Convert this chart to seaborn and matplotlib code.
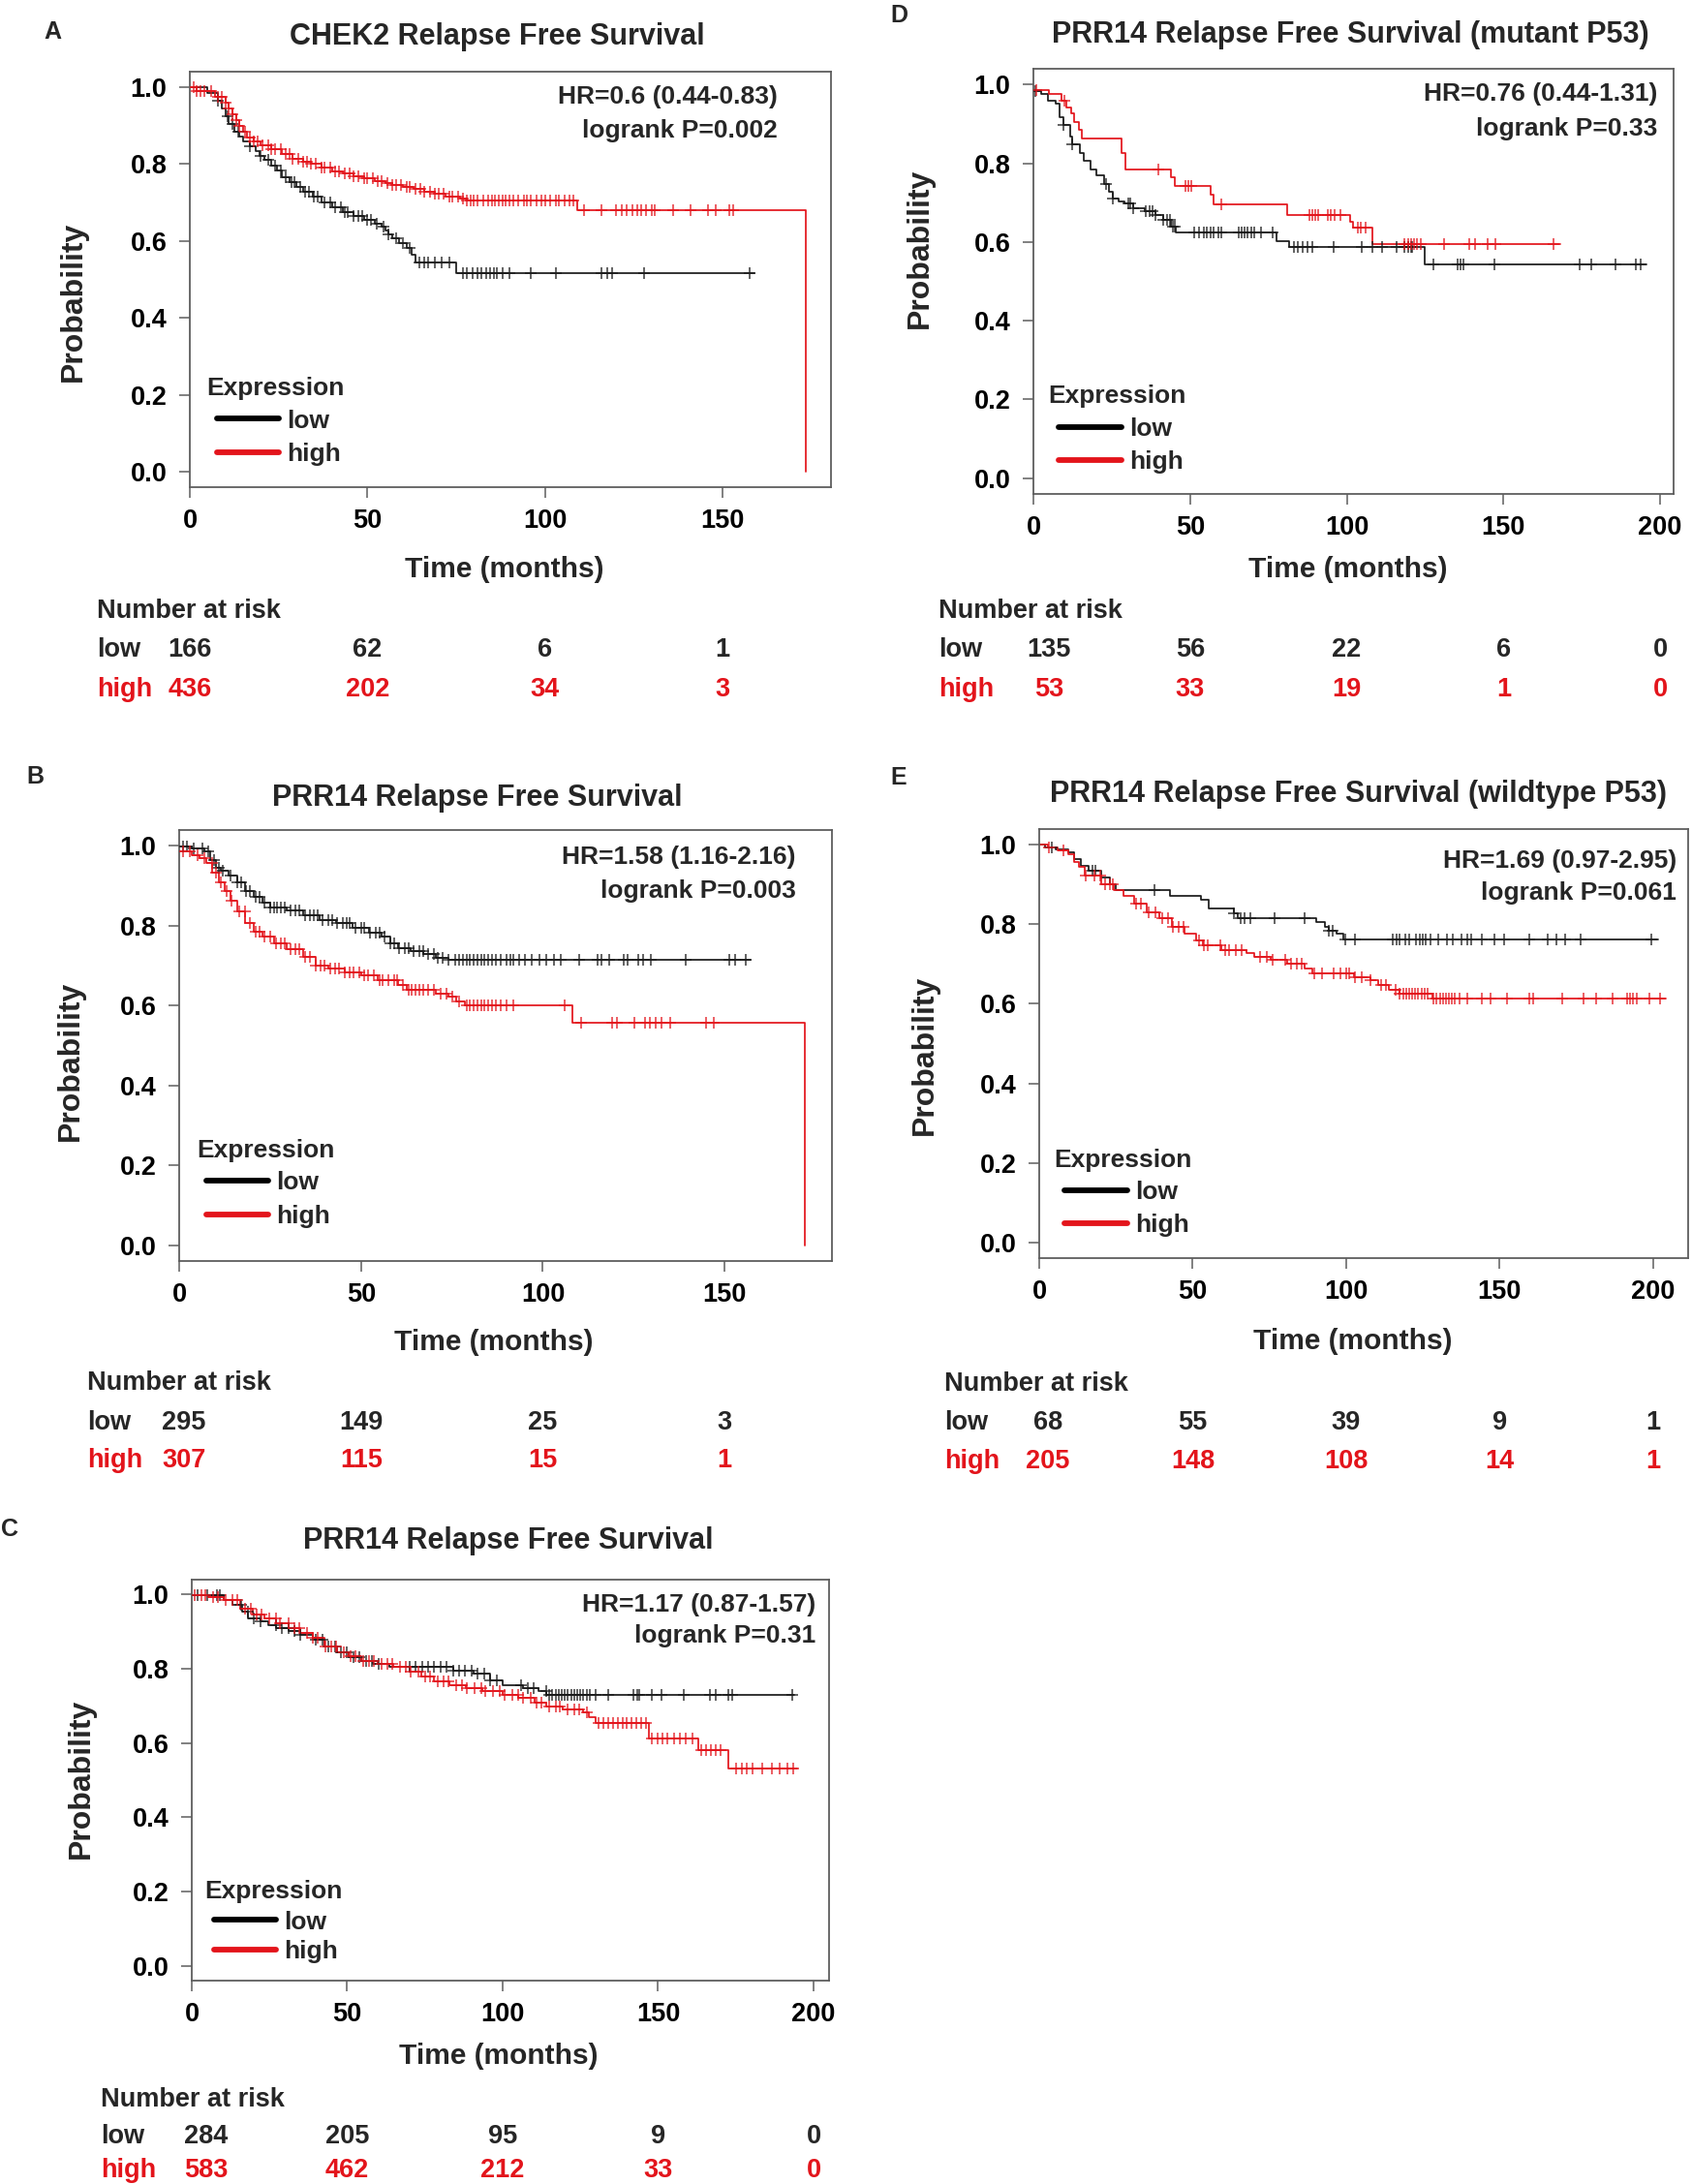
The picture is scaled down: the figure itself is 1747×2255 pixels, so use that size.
import matplotlib
matplotlib.use("Agg")
import matplotlib.pyplot as plt
import matplotlib.transforms as mtransforms
from matplotlib.lines import Line2D
import seaborn as sns
import numpy as np

# ---- data ----
# panel A: CHEK2, all patients
a_low_t = [0, 5, 8, 9, 10, 11, 12.5, 14, 15, 17, 18.5, 19.5, 21, 23, 24.5, 26, 28, 30, 32, 34.5,
           37, 40, 43, 46, 49, 52, 54, 55, 56, 57, 59, 61, 62.5, 63.5, 75, 159]
a_low_s = [1.0, 0.985, 0.965, 0.945, 0.925, 0.905, 0.885, 0.872, 0.86, 0.845, 0.833, 0.822, 0.81, 0.795,
           0.782, 0.765, 0.752, 0.74, 0.728, 0.714, 0.70, 0.688, 0.676, 0.665, 0.655, 0.645, 0.637, 0.628,
           0.618, 0.607, 0.595, 0.581, 0.564, 0.543, 0.517, 0.517]
a_low_cens = [8, 10.5, 12, 13.5, 17, 20, 22, 24, 25.5, 27, 28.5, 29.5, 31, 32.5, 33.5, 35, 36, 38, 39.5, 41,
              42.5, 43.5, 44.5, 46, 47.5, 48.5, 50, 51, 52.5, 54.5, 56, 58, 60, 62, 64.5, 66, 67, 69, 71, 73,
              77, 78, 79.5, 81, 82, 83.5, 84.5, 85.5, 86.5, 88, 90, 96, 103, 116, 117.5, 119, 128, 157.5]
a_high_t = [0, 2, 7, 10, 11, 12, 13, 14, 15, 16, 18, 20, 23, 26, 29, 32, 34, 37, 40, 43, 46, 49, 52, 55,
            57, 60, 63, 66, 69, 72, 76, 78, 109, 173.5]
a_high_s = [1.0, 0.99, 0.975, 0.96, 0.945, 0.93, 0.915, 0.90, 0.885, 0.87, 0.858, 0.848, 0.838, 0.826,
            0.814, 0.805, 0.80, 0.79, 0.78, 0.775, 0.769, 0.762, 0.756, 0.75, 0.746, 0.74, 0.735, 0.728,
            0.722, 0.716, 0.709, 0.705, 0.679, 0.0]
a_high_cens = [1, 2, 3, 4, 6, 8, 9, 10, 11, 12, 13, 14, 15.5, 17, 18, 19, 20.5, 22, 23, 24, 25.5, 27, 28,
               29, 30.5, 32, 33, 34, 35.5, 37, 38, 39.5, 41, 42, 43.5, 45, 46, 47.5, 49, 50, 51.5, 53, 54,
               55.5, 57, 58, 59.5, 61, 62, 63.5, 65, 66, 67.5, 69, 70, 71.5, 73, 74, 75.5, 77, 78, 79, 80,
               81, 82.5, 84, 85, 86, 87, 88, 89, 90, 91, 92.5, 94, 95, 96, 97.5, 99, 100, 101.5, 103, 104,
               105.5, 107, 108, 111, 116, 120, 121.5, 123, 124.5, 126, 127, 128.5, 130, 131, 136, 141, 146,
               148, 152, 153]

# panel B: PRR14, all patients
b_low_t = [0, 3.4, 6.8, 8.5, 10.2, 11.4, 13.7, 15.9, 18.2, 20.5, 22.8, 25, 29.6, 34, 38.7, 43.2, 47.8,
           52.3, 55.7, 58, 60.3, 63.7, 67.1, 70.5, 74, 157]
b_low_s = [0.998, 0.994, 0.986, 0.965, 0.945, 0.937, 0.925, 0.908, 0.888, 0.872, 0.859, 0.847, 0.839,
           0.827, 0.815, 0.806, 0.794, 0.782, 0.774, 0.757, 0.745, 0.737, 0.729, 0.72, 0.715, 0.715]
b_low_cens = [1, 2, 4, 6.5, 8, 9.5, 11, 12, 14, 16, 17, 18.5, 19.5, 21, 22, 23.5, 25, 26, 27, 28, 29, 30.5,
              32, 33, 34.5, 36, 37, 38, 39.5, 41, 42, 43.5, 45, 46, 47, 48.5, 50, 51, 52.5, 54, 55, 56.5,
              58, 59, 60.5, 62, 63, 64.5, 66, 67, 68.5, 70, 71, 72.5, 74, 76, 77, 78, 79, 80, 81, 82, 83,
              84, 85, 86, 87, 88.5, 90, 91, 92, 93.5, 95, 97, 99, 101, 103, 105, 110, 115, 116, 118.3,
              122.3, 123.4, 126.3, 127.5, 129.7, 139.4, 151.3, 153, 155.9]
b_high_t = [0, 3.4, 5.7, 7.4, 9.1, 10.8, 12.5, 14.2, 15.9, 18.2, 20.5, 22.8, 26.2, 29.6, 34.1, 37.5, 41,
            45.5, 50, 54.6, 60.3, 62.6, 70.5, 74, 76.2, 78.5, 108, 172]
b_high_s = [0.986, 0.978, 0.969, 0.957, 0.933, 0.908, 0.888, 0.863, 0.835, 0.806, 0.786, 0.774, 0.757,
            0.741, 0.721, 0.70, 0.692, 0.684, 0.676, 0.664, 0.651, 0.639, 0.631, 0.623, 0.611, 0.600,
            0.556, 0.0]
b_high_cens = [1, 3, 5, 7, 9, 10, 11.5, 13, 14.5, 16.5, 18, 19.5, 21, 22, 23.5, 25, 26.5, 28, 29, 30.5,
               32, 33, 34.5, 36, 37.5, 39, 40, 41.5, 43, 44, 45.5, 47, 48, 49.5, 51, 52, 53.5, 55, 56,
               57.5, 59, 60, 61.5, 63, 64, 65, 66, 67, 68.5, 70, 72, 73.5, 75, 77, 79, 80, 81, 82, 83, 84,
               85, 86, 87, 88.5, 90, 92, 106, 110.5, 119, 120.5, 125.3, 128, 129.5, 131, 132.5, 135, 145,
               147]

# panel C: PRR14, second cohort
c_low_t = [0, 10.4, 13, 16.2, 18.2, 22, 24.6, 27.2, 31.1, 35, 38.9, 42.8, 46.7, 50.6, 54.5, 58.4, 63.6,
           84, 90.8, 96, 99.9, 106.4, 111.5, 114.1, 193.9]
c_low_s = [0.997, 0.984, 0.971, 0.953, 0.936, 0.927, 0.918, 0.91, 0.901, 0.892, 0.879, 0.861, 0.844,
           0.831, 0.822, 0.813, 0.804, 0.796, 0.787, 0.769, 0.756, 0.747, 0.739, 0.73, 0.73]
c_low_cens = [2, 5, 8, 9, 16, 18, 20, 22, 27, 29, 31, 33, 35, 40, 42, 44, 46, 48, 50, 52, 54, 56, 58, 60,
              70, 72, 74, 76, 78, 80, 82, 84, 86, 88, 90, 92, 94, 96, 98, 106, 108, 110, 114, 115, 116,
              117, 118, 119, 120, 121, 122, 123, 124, 125, 126, 127, 128, 130, 134, 142, 143.2, 144,
              147.9, 151.1, 158.2, 166.7, 168.6, 172.5, 173.8, 193.3]
c_high_t = [0, 5.2, 10.4, 15.6, 19.5, 23.3, 27.2, 31.1, 35, 38.9, 42.8, 46.7, 50.6, 54.5, 59.7, 64.9, 70,
            73.9, 77.8, 83, 88.2, 93.4, 99.9, 105.1, 110.2, 114.1, 119.3, 125.8, 127.8, 130, 147.2, 162.8,
            172.5, 194.6]
c_high_s = [0.997, 0.993, 0.984, 0.962, 0.945, 0.936, 0.923, 0.91, 0.897, 0.883, 0.861, 0.844, 0.835,
            0.822, 0.813, 0.804, 0.791, 0.778, 0.765, 0.756, 0.747, 0.739, 0.73, 0.721, 0.708, 0.699,
            0.691, 0.682, 0.669, 0.655, 0.613, 0.581, 0.531, 0.531]
c_high_cens = [1, 3, 4.5, 7, 8.5, 11, 13, 14.5, 17, 19, 21, 22.5, 25, 27, 28.5, 31, 33, 34.5, 37, 39,
               40.5, 43, 45, 46.5, 49, 51, 52.5, 55, 57, 58.5, 61, 63, 64.5, 67, 69, 70.5, 73, 75, 76.5,
               79, 81, 82.5, 85, 87, 88.5, 91, 93, 94.5, 97, 99, 100.5, 103, 105, 106.5, 109, 111, 112.5,
               115, 117, 118.5, 121, 123, 124.5, 127, 131, 132.5, 134, 135.5, 137, 138.5, 140, 141.5, 143,
               144.5, 146, 148, 150, 151.5, 153, 155, 157, 159, 161, 164, 165.5, 167, 168.5, 170, 175,
               177, 178.5, 180.5, 183.5, 186.7, 189, 191.5, 193.5]

# panel D: PRR14, mutant P53
d_low_t = [0, 2.6, 4.5, 7.1, 8.4, 9.7, 11.7, 12.3, 14.9, 16.2, 18.1, 20.1, 22.7, 24, 25.3, 27.2, 29.1,
           31.7, 35.6, 38.9, 41.5, 44, 45.3, 77.7, 81.6, 125, 195.6]
d_low_s = [0.984, 0.976, 0.959, 0.951, 0.918, 0.897, 0.868, 0.847, 0.827, 0.806, 0.785, 0.769, 0.748,
           0.727, 0.711, 0.703, 0.698, 0.686, 0.678, 0.669, 0.657, 0.640, 0.624, 0.603, 0.587, 0.543,
           0.543]
d_low_cens = [0.6, 9.7, 12.3, 23.3, 25.3, 30.4, 31, 31.7, 36, 37, 38, 39, 41.5, 42.5, 43.5, 44.5, 45,
              51.2, 53, 54.5, 55.4, 56.5, 57.5, 59, 60, 65.4, 66.5, 67.5, 68.4, 69.5, 70.5, 72.5, 76.4,
              83, 84.5, 86, 87.5, 89, 95.9, 104.9, 108.2, 111.4, 116, 118.5, 119.5, 120.5, 121, 127.6,
              135.4, 136.3, 137.3, 147, 174.2, 178, 185.9, 192.4, 193.9]
d_high_t = [0, 5, 9, 10.5, 12, 13, 14.5, 15.5, 28, 29.5, 44, 45, 56.5, 57.5, 81, 101, 102, 108.2, 168]
d_high_s = [0.987, 0.975, 0.959, 0.942, 0.926, 0.905, 0.885, 0.864, 0.825, 0.785, 0.764, 0.742, 0.719,
            0.696, 0.669, 0.652, 0.636, 0.595, 0.595]
d_high_cens = [1, 10, 40, 48.5, 49.5, 50.5, 60, 88, 89, 90, 91, 94, 95, 96, 98, 103.5, 104.5, 106,
               118.5, 119.5, 120.5, 121.5, 122.5, 123.5, 131, 139, 141, 145, 147.5, 166]

# panel E: PRR14, wildtype P53
e_low_t = [0, 2, 5.4, 9.4, 11.5, 13.5, 16.2, 20.2, 22.9, 25, 42.5, 52.6, 55.3, 63.3, 64.7, 90.3, 93,
           94.3, 97, 99, 201.5]
e_low_s = [1.0, 0.994, 0.99, 0.982, 0.965, 0.948, 0.936, 0.919, 0.902, 0.886, 0.873, 0.861, 0.84, 0.827,
           0.815, 0.806, 0.794, 0.785, 0.777, 0.762, 0.762]
e_low_cens = [4, 17.5, 18.2, 37.7, 63.3, 65.5, 66.9, 68.7, 76.8, 86.3, 94.3, 95.7, 99.7, 103, 115.2,
              116.3, 117.3, 119.3, 120.6, 122.6, 124, 125, 126, 127.4, 130, 132.7, 134.8, 137.5, 139.5,
              140.8, 144.2, 148.2, 151.6, 159.7, 165.8, 168.5, 171.2, 176.5, 199.5]
e_high_t = [0, 2.7, 6, 9.4, 11.5, 12.8, 14.8, 20.2, 24.3, 27.6, 31, 35, 39.1, 43.1, 47.2, 51.2, 53.2,
            59.3, 67.4, 70.1, 75.5, 80.9, 86.3, 89, 102.4, 107.8, 110.5, 113.9, 117.3, 128, 204.2]
e_high_s = [1.0, 0.994, 0.986, 0.977, 0.956, 0.944, 0.923, 0.902, 0.886, 0.873, 0.852, 0.831, 0.815,
            0.794, 0.777, 0.76, 0.748, 0.735, 0.727, 0.719, 0.71, 0.702, 0.689, 0.677, 0.668, 0.66, 0.647,
            0.635, 0.626, 0.614, 0.614]
e_high_cens = [3, 8, 15, 18, 20, 21.5, 23, 24, 31.5, 33, 35.5, 38, 40, 42, 43.5, 45.5, 47, 52, 53.5, 55,
               59, 60.5, 62, 64, 66, 72, 74, 76, 80, 82, 84, 85.5, 89.5, 92, 96, 98, 100, 101, 103, 105,
               108, 111.5, 113, 116, 117.5, 118.5, 119.5, 120.5, 121.5, 122.5, 123.5, 124.5, 125.5,
               126.5, 128.5, 129.5, 130.5, 131.5, 132.5, 133.5, 134.5, 135.5, 137, 139.5, 144.2, 146.9,
               152.3, 159.7, 161, 170.5, 177.2, 181.3, 186.7, 191.4, 192.5, 193.5, 194.7, 198.8, 202.2]

titles = {"A": "CHEK2 Relapse Free Survival",
          "B": "PRR14 Relapse Free Survival",
          "C": "PRR14 Relapse Free Survival",
          "D": "PRR14 Relapse Free Survival (mutant P53)",
          "E": "PRR14 Relapse Free Survival (wildtype P53)"}
hr_text = {"A": "HR=0.6 (0.44-0.83)", "B": "HR=1.58 (1.16-2.16)", "C": "HR=1.17 (0.87-1.57)",
           "D": "HR=0.76 (0.44-1.31)", "E": "HR=1.69 (0.97-2.95)"}
p_text = {"A": "logrank P=0.002", "B": "logrank P=0.003", "C": "logrank P=0.31",
          "D": "logrank P=0.33", "E": "logrank P=0.061"}
risk_low = {"A": [166, 62, 6, 1], "B": [295, 149, 25, 3], "C": [284, 205, 95, 9, 0],
            "D": [135, 56, 22, 6, 0], "E": [68, 55, 39, 9, 1]}
risk_high = {"A": [436, 202, 34, 3], "B": [307, 115, 15, 1], "C": [583, 462, 212, 33, 0],
             "D": [53, 33, 19, 1, 0], "E": [205, 148, 108, 14, 1]}
xticks = {"A": [0, 50, 100, 150], "B": [0, 50, 100, 150], "C": [0, 50, 100, 150, 200],
          "D": [0, 50, 100, 150, 200], "E": [0, 50, 100, 150, 200]}
curves = {"A": (a_low_t, a_low_s, a_low_cens, a_high_t, a_high_s, a_high_cens),
          "B": (b_low_t, b_low_s, b_low_cens, b_high_t, b_high_s, b_high_cens),
          "C": (c_low_t, c_low_s, c_low_cens, c_high_t, c_high_s, c_high_cens),
          "D": (d_low_t, d_low_s, d_low_cens, d_high_t, d_high_s, d_high_cens),
          "E": (e_low_t, e_low_s, e_low_cens, e_high_t, e_high_s, e_high_cens)}

# ---- layout in pixels of the 1747x2255 picture ----
W, H = 1747, 2255
layout = {
    # box l,t,r,b | xmax | letter | title | HR right,y1,y2 | legend: title x,y, line x0,x1, row y1,y2
    # | ylabel | xlabel | risk x,y rows | shift of first risk column (px)
    "A": dict(box=(196, 74, 858, 503), xmax=180.5, letter=(54, 33), title=(513, 38),
              hr=(803, 100, 135), leg=(213, 401, 224, 288, 435, 470), ylab=(76, 311), xlab=(521, 588),
              risk=(100, 631, 671, 712), shift0=0),
    "B": dict(box=(185, 857, 859, 1302), xmax=179.5, letter=(36, 802), title=(493, 824),
              hr=(822, 885, 920), leg=(203, 1188, 213, 277, 1222, 1257), ylab=(73, 1095), xlab=(510, 1386),
              risk=(90, 1428, 1469, 1508), shift0=5),
    "C": dict(box=(198, 1631, 856, 2045), xmax=205, letter=(10, 1579), title=(525, 1591),
              hr=(842, 1657, 1689), leg=(211, 1953, 221, 285, 1985, 2016), ylab=(84, 1836), xlab=(515, 2123),
              risk=(104, 2168, 2206, 2241), shift0=15),
    "D": dict(box=(1067, 71, 1728, 510), xmax=204.3, letter=(928, 16), title=(1394, 36),
              hr=(1711, 97, 133), leg=(1082, 409, 1093, 1158, 444, 478), ylab=(950, 256), xlab=(1392, 588),
              risk=(969, 631, 671, 712), shift0=16),
    "E": dict(box=(1073, 856, 1743, 1299), xmax=211.4, letter=(928, 803), title=(1403, 820),
              hr=(1731, 889, 922), leg=(1088, 1198, 1099, 1164, 1232, 1266), ylab=(955, 1089), xlab=(1397, 1385),
              risk=(975, 1429, 1469, 1509), shift0=9),
}

RED = "#e3141b"
BLACK = "#1a1a1a"
AX_GREY = "#5e5e5e"
FS_LEG = 19

sns.set_theme(style="white")
plt.rcParams["font.family"] = ["Liberation Sans", "DejaVu Sans"]
plt.rcParams["font.weight"] = "bold"

fig = plt.figure(figsize=(W / 100, H / 100), dpi=100)


def fx(x):
    return x / W


def fy(y):
    return 1 - y / H


def draw_km(ax, t, s, cens, color, alpha):
    t = np.asarray(t, dtype=float)
    s = np.asarray(s, dtype=float)
    cens = np.asarray(cens, dtype=float)
    sns.lineplot(x=t, y=s, ax=ax, drawstyle="steps-post", color=color, linewidth=1.25,
                 estimator=None, sort=False)
    # censored marks sit on the curve at their time
    idx = np.searchsorted(t, cens, side="right") - 1
    sns.scatterplot(x=cens, y=s[idx], ax=ax, marker="+", s=75, color=color, linewidth=1.2,
                    alpha=alpha, legend=False, zorder=3)


for key in ["A", "B", "C", "D", "E"]:
    lay = layout[key]
    l, t_, r, b = lay["box"]
    ax = fig.add_axes([fx(l), fy(b), (r - l) / W, (b - t_) / H])
    lt, ls, lc, ht, hs, hc = curves[key]
    draw_km(ax, lt, ls, lc, BLACK, 0.8)
    draw_km(ax, ht, hs, hc, RED, 0.8)

    ax.set_xlim(0, lay["xmax"])
    ax.set_ylim(-0.04, 1.04)
    ax.set_xticks(xticks[key])
    ax.set_yticks([0.0, 0.2, 0.4, 0.6, 0.8, 1.0])
    ax.set_yticklabels(["0.0", "0.2", "0.4", "0.6", "0.8", "1.0"])
    ax.tick_params(axis="both", bottom=True, left=True, direction="out", length=8, width=1.1,
                   color=AX_GREY, labelsize=19.5, labelcolor="black")
    ax.tick_params(axis="y", pad=9)
    ax.tick_params(axis="x", pad=8)
    for lab in ax.get_xticklabels() + ax.get_yticklabels():
        lab.set_fontweight("bold")
    for sp in ax.spines.values():
        sp.set_color(AX_GREY)
        sp.set_linewidth(1.3)
    ax.set_xlabel("")
    ax.set_ylabel("")

    # legend: title as text, entries as a legend anchored at the line start
    ex, ey, hx0, hx1, row1, row2 = lay["leg"]
    fig.text(fx(ex), fy(ey), "Expression", fontsize=FS_LEG, fontweight="bold", ha="left", va="center")
    handles = [Line2D([], [], color="black", lw=4.2, label="low"),
               Line2D([], [], color=RED, lw=4.2, label="high")]
    em = FS_LEG * 100 / 72
    leg = ax.legend(handles=handles, loc="upper left",
                    bbox_to_anchor=(fx(hx0), fy(row1 - 12.5)), bbox_transform=fig.transFigure,
                    frameon=False, fontsize=FS_LEG, borderpad=0, borderaxespad=0,
                    handlelength=(hx1 - hx0) / em, handletextpad=0.3,
                    labelspacing=(row2 - row1 - 24.7) / em)
    for txt in leg.get_texts():
        txt.set_fontweight("bold")

    # texts
    fig.text(fx(lay["letter"][0]), fy(lay["letter"][1]), key, fontsize=18, fontweight="bold",
             ha="center", va="center")
    fig.text(fx(lay["title"][0]), fy(lay["title"][1]), titles[key], fontsize=22, fontweight="bold",
             ha="center", va="center")
    fig.text(fx(lay["hr"][0]), fy(lay["hr"][1]), hr_text[key], fontsize=19, fontweight="bold",
             ha="right", va="center")
    fig.text(fx(lay["hr"][0]), fy(lay["hr"][2]), p_text[key], fontsize=19, fontweight="bold",
             ha="right", va="center")
    fig.text(fx(lay["ylab"][0]), fy(lay["ylab"][1]), "Probability", fontsize=23, fontweight="bold",
             ha="center", va="center", rotation=90)
    fig.text(fx(lay["xlab"][0]), fy(lay["xlab"][1]), "Time (months)", fontsize=21.5, fontweight="bold",
             ha="center", va="center")

    # number at risk table, columns under the x ticks
    rx, ry0, ry1, ry2 = lay["risk"]
    fig.text(fx(rx), fy(ry0), "Number at risk", fontsize=19.5, fontweight="bold", ha="left", va="center")
    fig.text(fx(rx), fy(ry1), "low", fontsize=19.5, fontweight="bold", ha="left", va="center")
    fig.text(fx(rx), fy(ry2), "high", fontsize=19.5, fontweight="bold", ha="left", va="center", color=RED)
    blend = mtransforms.blended_transform_factory(ax.transData, fig.transFigure)
    shift = lay["shift0"] * lay["xmax"] / (r - l)
    for i, (xv, nl, nh) in enumerate(zip(xticks[key], risk_low[key], risk_high[key])):
        xpos = xv + (shift if i == 0 else 0)
        ax.text(xpos, fy(ry1), str(nl), transform=blend, fontsize=19.5, fontweight="bold",
                ha="center", va="center", clip_on=False)
        ax.text(xpos, fy(ry2), str(nh), transform=blend, fontsize=19.5, fontweight="bold",
                ha="center", va="center", color=RED, clip_on=False)

fig.savefig("out.png", dpi=100, facecolor="white")
